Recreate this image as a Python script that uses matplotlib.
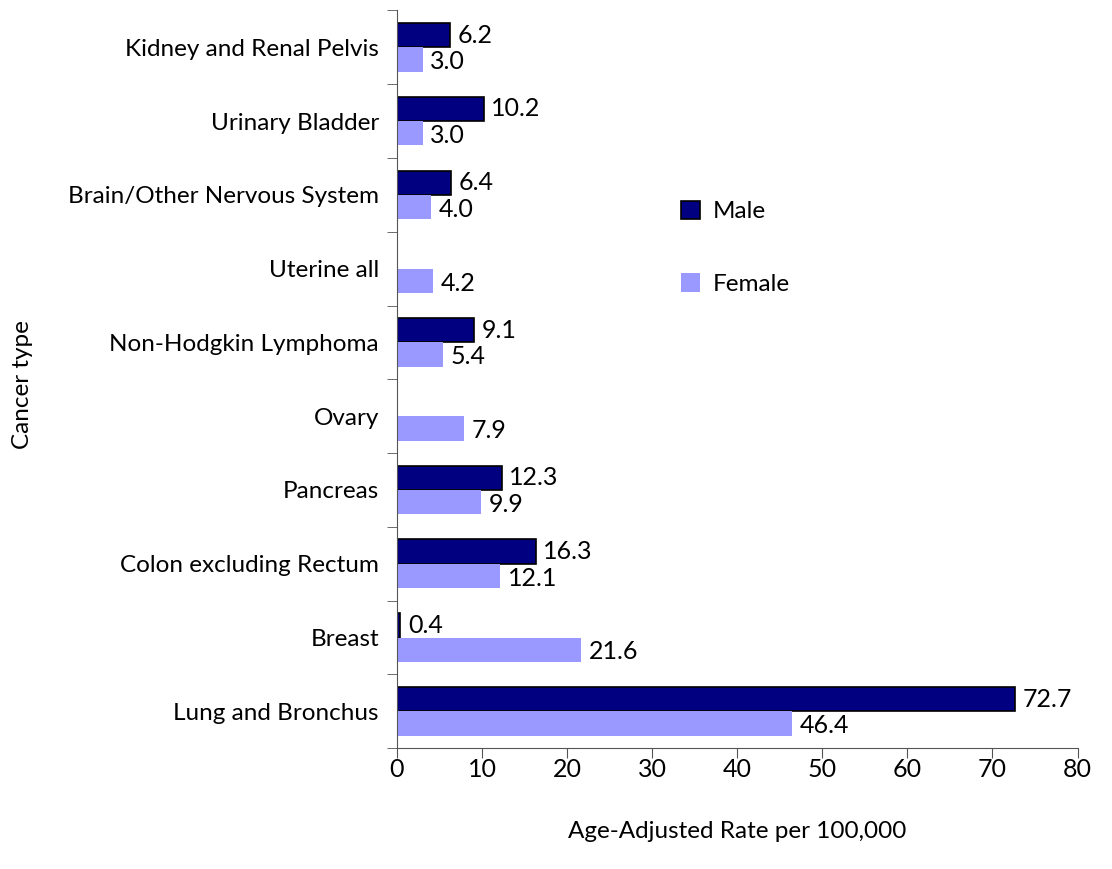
import matplotlib
matplotlib.use('Agg')
import matplotlib.pyplot as plt
import numpy as np

plt.rcParams['font.family'] = ['Lato', 'DejaVu Sans']

# Datos (de abajo hacia arriba)
categorias = ['Lung and Bronchus', 'Breast', 'Colon excluding Rectum', 'Pancreas',
              'Ovary', 'Non-Hodgkin Lymphoma', 'Uterine all',
              'Brain/Other Nervous System', 'Urinary Bladder', 'Kidney and Renal Pelvis']
hombres = [72.7, 0.4, 16.3, 12.3, None, 9.1, None, 6.4, 10.2, 6.2]
mujeres = [46.4, 21.6, 12.1, 9.9, 7.9, 5.4, 4.2, 4.0, 3.0, 3.0]

fig = plt.figure(figsize=(11.12, 8.69), dpi=100)
ax = fig.add_axes([0.357, 0.139, 0.612, 0.849])

y = np.arange(len(categorias))
alto = 0.33
h_vals = [v if v is not None else 0 for v in hombres]
ax.barh(y + alto / 2, h_vals, height=alto, color='#000080', edgecolor='black', linewidth=1.2, label='Male')
ax.barh(y - alto / 2, mujeres, height=alto, color='#9999FF', label='Female')

# Etiquetas de valores
for i, v in enumerate(hombres):
    if v is not None:
        ax.text(v + 0.9, y[i] + alto / 2, f'{v:.1f}', va='center', ha='left', fontsize=18)
for i, v in enumerate(mujeres):
    ax.text(v + 0.9, y[i] - alto / 2 - 0.03, f'{v:.1f}', va='center', ha='left', fontsize=18)

ax.set_xlim(0, 80)
ax.set_ylim(-0.5, len(categorias) - 0.5)
ax.set_xticks(np.arange(0, 81, 10))
ax.set_yticks(y)
ax.set_yticklabels(categorias)
ax.set_yticks(np.arange(-0.5, len(categorias), 1), minor=True)
ax.tick_params(axis='y', which='major', length=0, pad=13, labelsize=17.5)
ax.tick_params(axis='y', which='minor', length=7, color='#555555')
ax.tick_params(axis='x', length=7, pad=0, labelsize=18, color='#555555')

for s in ['top', 'right']:
    ax.spines[s].set_visible(False)
for s in ['left', 'bottom']:
    ax.spines[s].set_color('#555555')

ax.set_xlabel('Age-Adjusted Rate per 100,000', fontsize=17.5, labelpad=29)
fig.text(0.02, 0.557, 'Cancer type', rotation=90, va='center', ha='center', fontsize=17.5)

ax.legend(loc='upper left', bbox_to_anchor=(0.385, 0.772), frameon=False, fontsize=17.5,
          labelspacing=2.1, handlelength=0.8, handleheight=0.8, handletextpad=0.5)

fig.savefig('out.png', dpi=100)
